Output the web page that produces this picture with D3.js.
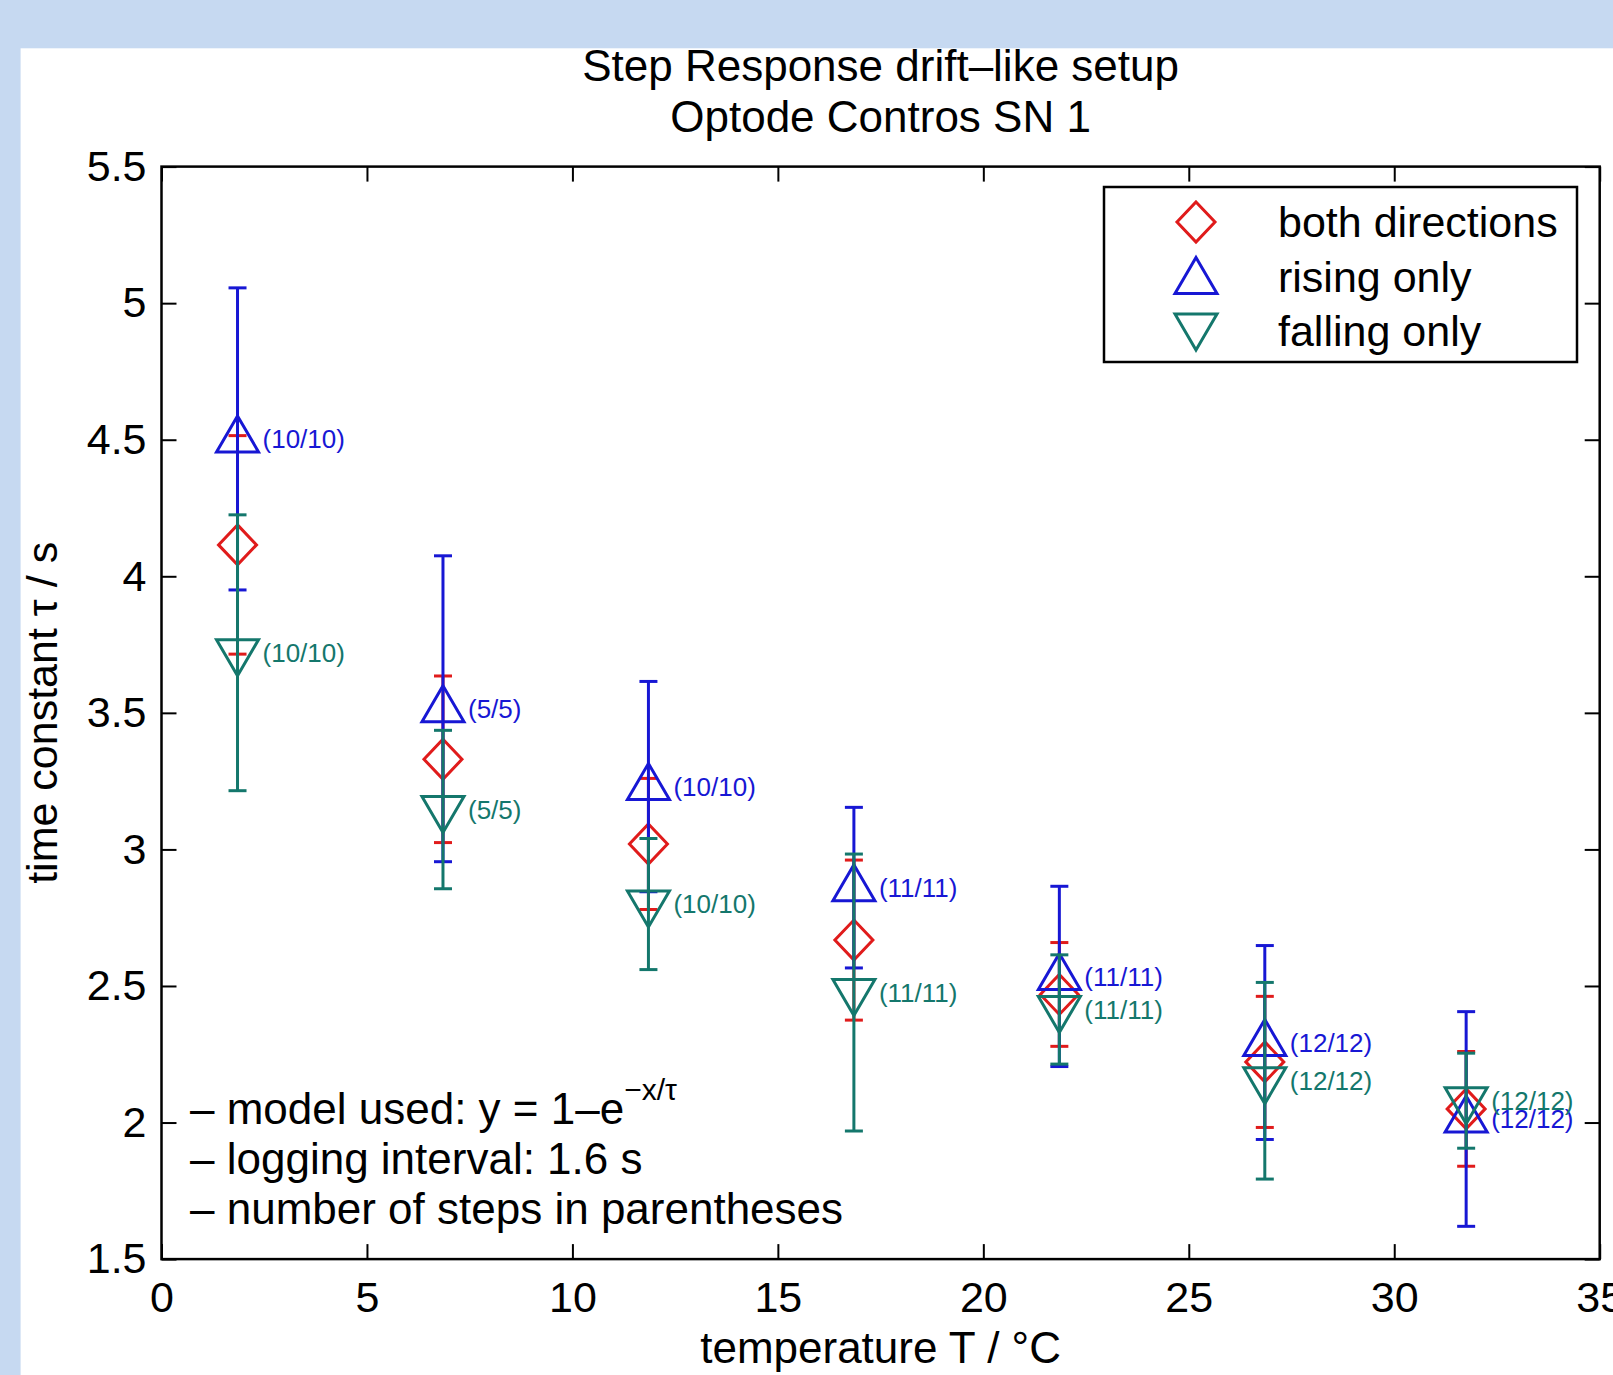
<!DOCTYPE html>
<html>
<head>
<meta charset="utf-8">
<script src="https://cdn.jsdelivr.net/npm/d3@7"></script>
<style>
  html, body { margin: 0; padding: 0; background: #c6d9f1; overflow: hidden; }
  svg { display: block; }
  text { font-family: "Liberation Sans", Arial, Helvetica, sans-serif; }
</style>
</head>
<body>
<div id="chart"></div>
<script>
// values
const temps = [1.85, 6.85, 11.85, 16.85, 21.85, 26.85, 31.75];
const bothMean = [4.115, 3.33, 3.02, 2.668, 2.469, 2.222, 2.05];
const bothErr = [0.40, 0.305, 0.24, 0.293, 0.19, 0.24, 0.21];
const risingMean = [4.503, 3.515, 3.23, 2.86, 2.535, 2.293, 2.013];
const risingErr = [0.553, 0.56, 0.385, 0.294, 0.33, 0.355, 0.393];
const fallingMean = [3.72, 3.146, 2.80, 2.476, 2.414, 2.153, 2.08];
const fallingErr = [0.505, 0.29, 0.24, 0.507, 0.2, 0.36, 0.174];
const stepCounts = ['(10/10)', '(5/5)', '(10/10)', '(11/11)', '(11/11)', '(12/12)', '(12/12)'];
const xTicks = [0, 5, 10, 15, 20, 25, 30, 35];
const yTicks = [1.5, 2, 2.5, 3, 3.5, 4, 4.5, 5, 5.5];
const notes = ['– model used: y = 1–e', '– logging interval: 1.6 s', '– number of steps in parentheses'];

const W = 1613, H = 1375;
const plot = { left: 161.5, right: 1599.7, top: 166.6, bottom: 1259.1 };

const svg = d3.select('#chart').append('svg')
  .attr('width', W).attr('height', H);

// white figure panel
svg.append('rect')
  .attr('x', 20.6).attr('y', 48.3)
  .attr('width', W).attr('height', H)
  .attr('fill', '#ffffff');

const x = d3.scaleLinear().domain([0, 35]).range([plot.left, plot.right]);
const y = d3.scaleLinear().domain([1.5, 5.5]).range([plot.bottom, plot.top]);

// titles
svg.append('text')
  .attr('x', (plot.left + plot.right) / 2).attr('y', 81)
  .attr('text-anchor', 'middle')
  .style('font-size', '44px')
  .text('Step Response drift–like setup');
svg.append('text')
  .attr('x', (plot.left + plot.right) / 2).attr('y', 132)
  .attr('text-anchor', 'middle')
  .style('font-size', '44px')
  .text('Optode Contros SN 1');

// axes, ticks pointing inward
const tickLen = 15;
svg.append('g')
  .attr('transform', `translate(0,${plot.bottom})`)
  .call(d3.axisBottom(x).tickValues(xTicks).tickSizeInner(-tickLen).tickSizeOuter(0).tickPadding(22))
  .call(g => g.selectAll('text').style('font-size', '43px').attr('fill', '#000'));
svg.append('g')
  .attr('transform', `translate(0,${plot.top})`)
  .call(d3.axisTop(x).tickValues(xTicks).tickSizeInner(-tickLen).tickSizeOuter(0).tickFormat(''));
svg.append('g')
  .attr('transform', `translate(${plot.left},0)`)
  .call(d3.axisLeft(y).tickValues(yTicks).tickSizeInner(-tickLen).tickSizeOuter(0).tickPadding(15)
    .tickFormat(d3.format('')))
  .call(g => g.selectAll('text').style('font-size', '43px').attr('fill', '#000'));
svg.append('g')
  .attr('transform', `translate(${plot.right},0)`)
  .call(d3.axisRight(y).tickValues(yTicks).tickSizeInner(-tickLen).tickSizeOuter(0).tickFormat(''));

svg.selectAll('.domain').remove();
svg.selectAll('.tick line').attr('stroke', '#000').attr('stroke-width', 2);

svg.append('rect')
  .attr('x', plot.left).attr('y', plot.top)
  .attr('width', plot.right - plot.left).attr('height', plot.bottom - plot.top)
  .attr('fill', 'none').attr('stroke', '#000').attr('stroke-width', 2.5);

// axis labels
svg.append('text')
  .attr('x', (plot.left + plot.right) / 2).attr('y', 1363)
  .attr('text-anchor', 'middle')
  .style('font-size', '44px')
  .text('temperature T / °C');
svg.append('text')
  .attr('transform', `translate(57,${(plot.top + plot.bottom) / 2}) rotate(-90)`)
  .attr('text-anchor', 'middle')
  .style('font-size', '43px')
  .text('time constant τ / s');

// marker shapes
const diamond = 'M0,-20 L19,0 L0,20 L-19,0 Z';
const triUp = 'M0,-23 L21,13 L-21,13 Z';
const triDown = 'M0,23 L21,-13 L-21,-13 Z';

const series = [
  { mean: bothMean, err: bothErr, color: '#e01b1b', shape: diamond, label: 'both directions' },
  { mean: risingMean, err: risingErr, color: '#1717d4', shape: triUp, label: 'rising only' },
  { mean: fallingMean, err: fallingErr, color: '#14776c', shape: triDown, label: 'falling only' }
];

const capW = 9;
series.forEach(s => {
  const g = svg.append('g');
  const rows = temps.map((t, i) => ({ t, m: s.mean[i], e: s.err[i] }));
  g.selectAll('.bar').data(rows).enter().append('line')
    .attr('x1', d => x(d.t)).attr('x2', d => x(d.t))
    .attr('y1', d => y(d.m + d.e)).attr('y2', d => y(d.m - d.e))
    .attr('stroke', s.color).attr('stroke-width', 3);
  ['top', 'bot'].forEach(k => {
    g.selectAll('.cap' + k).data(rows).enter().append('line')
      .attr('x1', d => x(d.t) - capW).attr('x2', d => x(d.t) + capW)
      .attr('y1', d => y(k === 'top' ? d.m + d.e : d.m - d.e))
      .attr('y2', d => y(k === 'top' ? d.m + d.e : d.m - d.e))
      .attr('stroke', s.color).attr('stroke-width', 3);
  });
  g.selectAll('.mk').data(rows).enter().append('path')
    .attr('d', s.shape)
    .attr('transform', d => `translate(${x(d.t)},${y(d.m)})`)
    .attr('fill', 'none').attr('stroke', s.color).attr('stroke-width', 3);
});

// step count labels for rising / falling
[series[1], series[2]].forEach(s => {
  svg.append('g').selectAll('text').data(temps).enter().append('text')
    .attr('x', d => x(d) + 25)
    .attr('y', (d, i) => y(s.mean[i]))
    .attr('dy', '0.35em')
    .style('font-size', '26px')
    .attr('fill', s.color)
    .text((d, i) => stepCounts[i]);
});

// legend
const lg = svg.append('g');
lg.append('rect')
  .attr('x', 1104).attr('y', 187).attr('width', 473).attr('height', 175)
  .attr('fill', '#fff').attr('stroke', '#000').attr('stroke-width', 2.5);
series.forEach((s, i) => {
  const cy = 222 + i * 54.5;
  lg.append('path').attr('d', s.shape)
    .attr('transform', `translate(1196,${cy + (i === 0 ? 0 : (i === 1 ? 4 : -4))})`)
    .attr('fill', 'none').attr('stroke', s.color).attr('stroke-width', 3);
  lg.append('text')
    .attr('x', 1278).attr('y', cy + 15)
    .style('font-size', '43px')
    .text(s.label);
});

// notes in lower left
const nt = svg.append('g');
notes.forEach((n, i) => {
  const t = nt.append('text')
    .attr('x', 190).attr('y', 1124 + i * 50)
    .style('font-size', '44px')
    .text(n);
  if (i === 0) {
    t.append('tspan').attr('dy', -24).style('font-size', '30px').text('−x/τ');
  }
});
</script>
</body>
</html>
